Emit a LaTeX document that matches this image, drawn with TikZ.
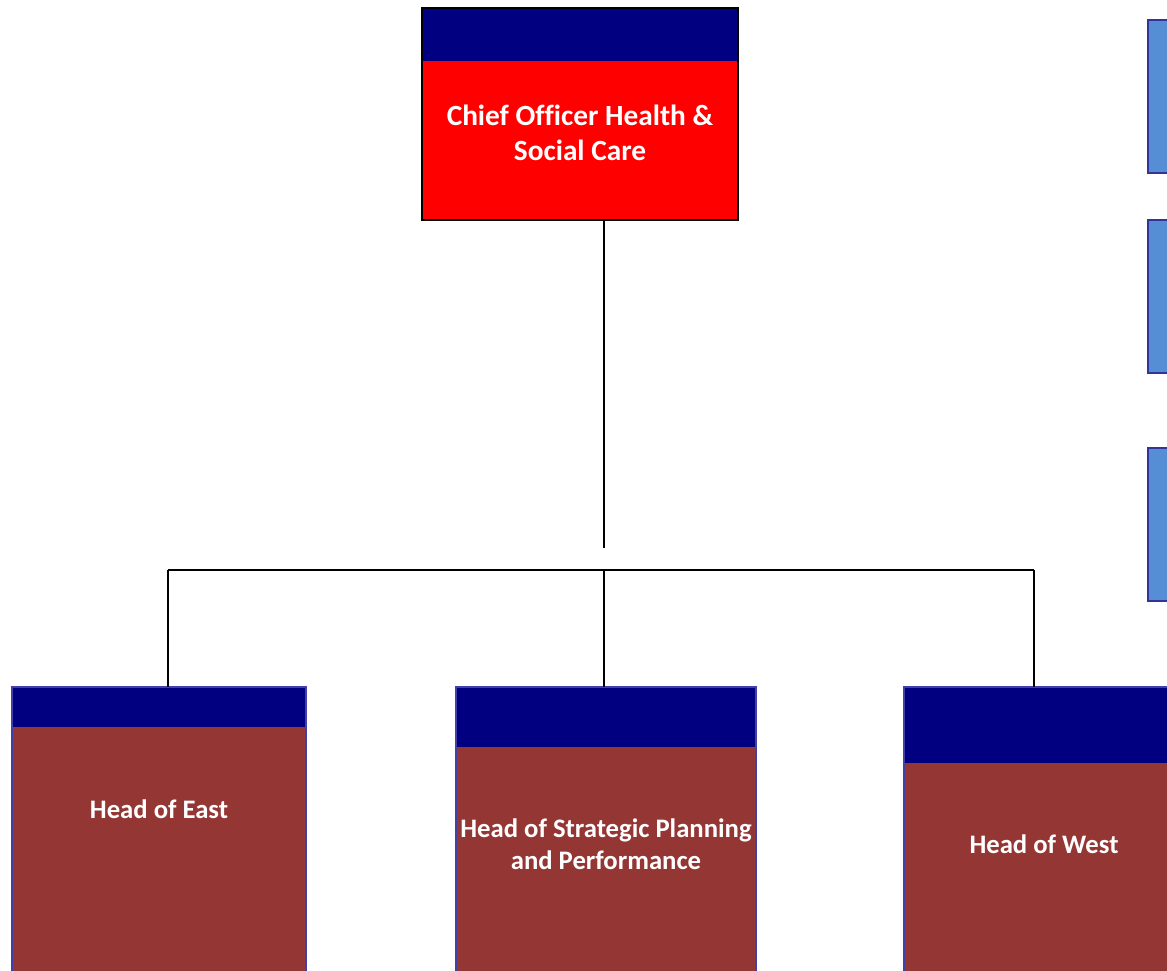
\documentclass[tikz,border=0pt]{standalone}
\usepackage{fontspec}
\setmainfont[Ligatures=NoCommon]{Carlito}
\definecolor{navyband}{HTML}{000080}
\definecolor{chiefred}{HTML}{FF0000}
\definecolor{headbrown}{HTML}{943634}
\definecolor{sidefill}{HTML}{558ED5}
\definecolor{sideedge}{HTML}{333399}
\definecolor{headedge}{HTML}{4040A8}
\begin{document}
\begin{tikzpicture}[x=1pt,y=-1pt,
  box/.style={anchor=north west, inner sep=0pt, outer sep=0pt},
  chiefbox/.style={box, draw=black, line width=2pt, fill=chiefred},
  headbox/.style={box, draw=headedge, line width=1.5pt, fill=headbrown},
  sidebox/.style={box, draw=sideedge, line width=2pt, fill=sidefill, minimum width=40pt, minimum height=153pt},
  band/.style={fill=navyband},
  lbl/.style={text=white, align=center, inner sep=0pt},
  toplbl/.style={lbl, font=\bfseries\fontsize{29.3}{35}\selectfont},
  headlbl/.style={lbl, font=\bfseries\fontsize{26.7}{32}\selectfont},
  conn/.style={draw=black, line width=2pt}
]
\useasboundingbox (0,0) rectangle (1167,970);
\fill[white] (0,0) rectangle (1167,970);

% chief box
\node[chiefbox, minimum width=316pt, minimum height=212pt] (chief) at (422,8) {};
\fill[band] (chief.north west) rectangle (738,61);
\draw[black, line width=2pt] (chief.north west) rectangle (chief.south east);
\node[toplbl] (chieft) at (580,133) {Chief Officer Health \&\\Social Care};

% side boxes
\node[sidebox] (side1) at (1148,20) {};
\node[sidebox] (side2) at (1148,220) {};
\node[sidebox] (side3) at (1148,448) {};

% heads
\node[headbox, minimum width=294pt, minimum height=320pt] (east) at (12,687) {};
\fill[band] (east.north west) rectangle (306,727);
\draw[headedge, line width=1.5pt] (east.north west) rectangle (east.south east);
\node[headlbl] (eastt) at (159,809) {Head of East};

\node[headbox, minimum width=300pt, minimum height=320pt] (spp) at (456,687) {};
\fill[band] (spp.north west) rectangle (756,747);
\draw[headedge, line width=1.5pt] (spp.north west) rectangle (spp.south east);
\node[headlbl] (sppt) at (606,844) {Head of Strategic Planning\\and Performance};

\node[headbox, minimum width=300pt, minimum height=320pt] (west) at (904,687) {};
\fill[band] (west.north west) rectangle (1204,763);
\draw[headedge, line width=1.5pt] (west.north west) rectangle (west.south east);
\node[headlbl] (westt) at (1044,844) {Head of West};

% connectors
\coordinate (stem) at (604,548);
\coordinate (busL) at (168,570);
\coordinate (busM) at (604,570);
\coordinate (busR) at (1034,570);
\draw[conn] (chief.south -| stem) -- (stem);
\draw[conn] (busL) -- (busR);
\draw[conn] (busL) -- (busL |- east.north);
\draw[conn] (busM) -- (busM |- spp.north);
\draw[conn] (busR) -- (busR |- west.north);
\end{tikzpicture}
\end{document}
